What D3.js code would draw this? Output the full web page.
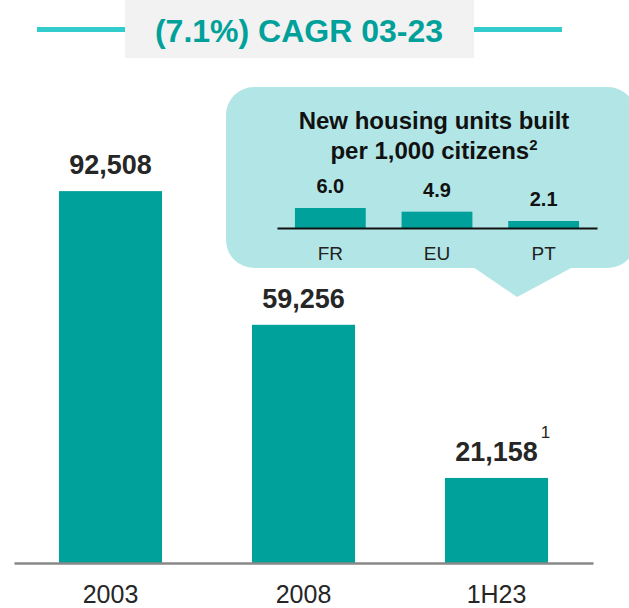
<!DOCTYPE html>
<html>
<head>
<meta charset="utf-8">
<script src="https://cdn.jsdelivr.net/npm/d3@7"></script>
<style>
  body { margin: 0; background: #fff; }
  svg { display: block; font-family: Arial, "Liberation Sans", sans-serif; }
</style>
</head>
<body>
<svg id="chart" width="629" height="608"></svg>
<script>
  // main series
  const years = ['2003', '2008', '1H23'];
  const units = [92508, 59256, 21158];
  const unitLabels = ['92,508', '59,256', '21,158'];
  const unitNotes = ['', '', '1'];

  // callout series
  const countries = ['FR', 'EU', 'PT'];
  const perThousand = [6.0, 4.9, 2.1];

  const cagrText = '(7.1%) CAGR 03-23';

  const TEAL = '#00A19A';
  const CYAN = '#33CCCC';
  const BUBBLE = '#B2E6E6';
  const INK = '#262626';

  const svg = d3.select('#chart');

  // ---- header ----
  svg.append('line')
    .attr('x1', 37).attr('x2', 126).attr('y1', 29.5).attr('y2', 29.5)
    .attr('stroke', CYAN).attr('stroke-width', 5);
  svg.append('line')
    .attr('x1', 473).attr('x2', 562).attr('y1', 29.5).attr('y2', 29.5)
    .attr('stroke', CYAN).attr('stroke-width', 5);
  svg.append('rect')
    .attr('x', 125).attr('y', 0).attr('width', 349).attr('height', 58)
    .attr('fill', '#F2F2F2');
  svg.append('text')
    .attr('x', 299).attr('y', 42)
    .attr('text-anchor', 'middle')
    .attr('fill', TEAL)
    .attr('font-size', 32).attr('font-weight', 'bold')
    .text(cagrText);

  // ---- main bars ----
  const x = d3.scaleBand()
    .domain(years)
    .range([14, 593])
    .paddingInner(0.466)
    .paddingOuter(0.233);

  const y = d3.scaleLinear()
    .domain([0, 100000])
    .range([563, 161]);

  const rows = years.map((yr, i) => ({ yr, v: units[i], label: unitLabels[i], note: unitNotes[i] }));

  svg.append('g')
    .selectAll('rect')
    .data(rows)
    .join('rect')
    .attr('x', (d) => x(d.yr))
    .attr('y', (d) => y(d.v))
    .attr('width', x.bandwidth())
    .attr('height', (d) => y(0) - y(d.v))
    .attr('fill', TEAL);

  svg.append('g')
    .selectAll('text')
    .data(rows)
    .join('text')
    .attr('x', (d) => x(d.yr) + x.bandwidth() / 2)
    .attr('y', (d) => y(d.v) - 17)
    .attr('text-anchor', 'middle')
    .attr('fill', INK)
    .attr('font-size', 27).attr('font-weight', 'bold')
    .text((d) => d.label);

  svg.append('g')
    .selectAll('text')
    .data(rows.filter((d) => d.note))
    .join('text')
    .attr('x', (d) => x(d.yr) + x.bandwidth() / 2 + 49)
    .attr('y', (d) => y(d.v) - 40)
    .attr('text-anchor', 'middle')
    .attr('fill', INK)
    .attr('font-size', 17)
    .text((d) => d.note);

  const xAxis = svg.append('g')
    .attr('transform', `translate(0,${y(0)})`)
    .call(d3.axisBottom(x).tickSize(0).tickSizeOuter(0));
  xAxis.select('.domain').attr('stroke', '#888').attr('stroke-width', 2.5);
  xAxis.selectAll('text')
    .attr('y', 40).attr('dy', null)
    .attr('fill', INK)
    .attr('font-size', 25)
    .attr('font-family', 'Arial, "Liberation Sans", sans-serif');

  // ---- callout bubble ----
  const bubble = svg.append('g');
  bubble.append('rect')
    .attr('x', 226).attr('y', 87).attr('width', 410).attr('height', 181)
    .attr('rx', 28).attr('ry', 28)
    .attr('fill', BUBBLE);
  bubble.append('path')
    .attr('d', d3.line()([[473, 267], [573, 267], [517, 297]]))
    .attr('fill', BUBBLE);

  bubble.append('text')
    .attr('x', 434).attr('y', 129)
    .attr('text-anchor', 'middle')
    .attr('fill', '#111')
    .attr('font-size', 24).attr('font-weight', 'bold')
    .text('New housing units built');
  const t2 = bubble.append('text')
    .attr('x', 434).attr('y', 159)
    .attr('text-anchor', 'middle')
    .attr('fill', '#111')
    .attr('font-size', 24).attr('font-weight', 'bold');
  t2.append('tspan').text('per 1,000 citizens');
  t2.append('tspan').attr('font-size', 15).attr('dy', -9).text('2');

  const mx = d3.scaleBand()
    .domain(countries)
    .range([277, 597])
    .paddingInner(0.336)
    .paddingOuter(0.168);
  const my = d3.scaleLinear()
    .domain([0, 6])
    .range([228, 208]);

  const mini = countries.map((c, i) => ({ c, v: perThousand[i] }));

  bubble.append('g')
    .selectAll('rect')
    .data(mini)
    .join('rect')
    .attr('x', (d) => mx(d.c))
    .attr('y', (d) => my(d.v))
    .attr('width', mx.bandwidth())
    .attr('height', (d) => my(0) - my(d.v))
    .attr('fill', TEAL);

  bubble.append('g')
    .selectAll('text')
    .data(mini)
    .join('text')
    .attr('x', (d) => mx(d.c) + mx.bandwidth() / 2)
    .attr('y', (d) => my(d.v) - 15)
    .attr('text-anchor', 'middle')
    .attr('fill', '#111')
    .attr('font-size', 20).attr('font-weight', 'bold')
    .text((d) => d3.format('.1f')(d.v));

  const miniAxis = bubble.append('g')
    .attr('transform', `translate(0,${my(0)})`)
    .call(d3.axisBottom(mx).tickSize(0).tickSizeOuter(0));
  miniAxis.select('.domain').attr('stroke', '#111').attr('stroke-width', 2);
  miniAxis.selectAll('text')
    .attr('y', 32).attr('dy', null)
    .attr('fill', '#222')
    .attr('font-size', 19)
    .attr('font-family', 'Arial, "Liberation Sans", sans-serif');
</script>
</body>
</html>
